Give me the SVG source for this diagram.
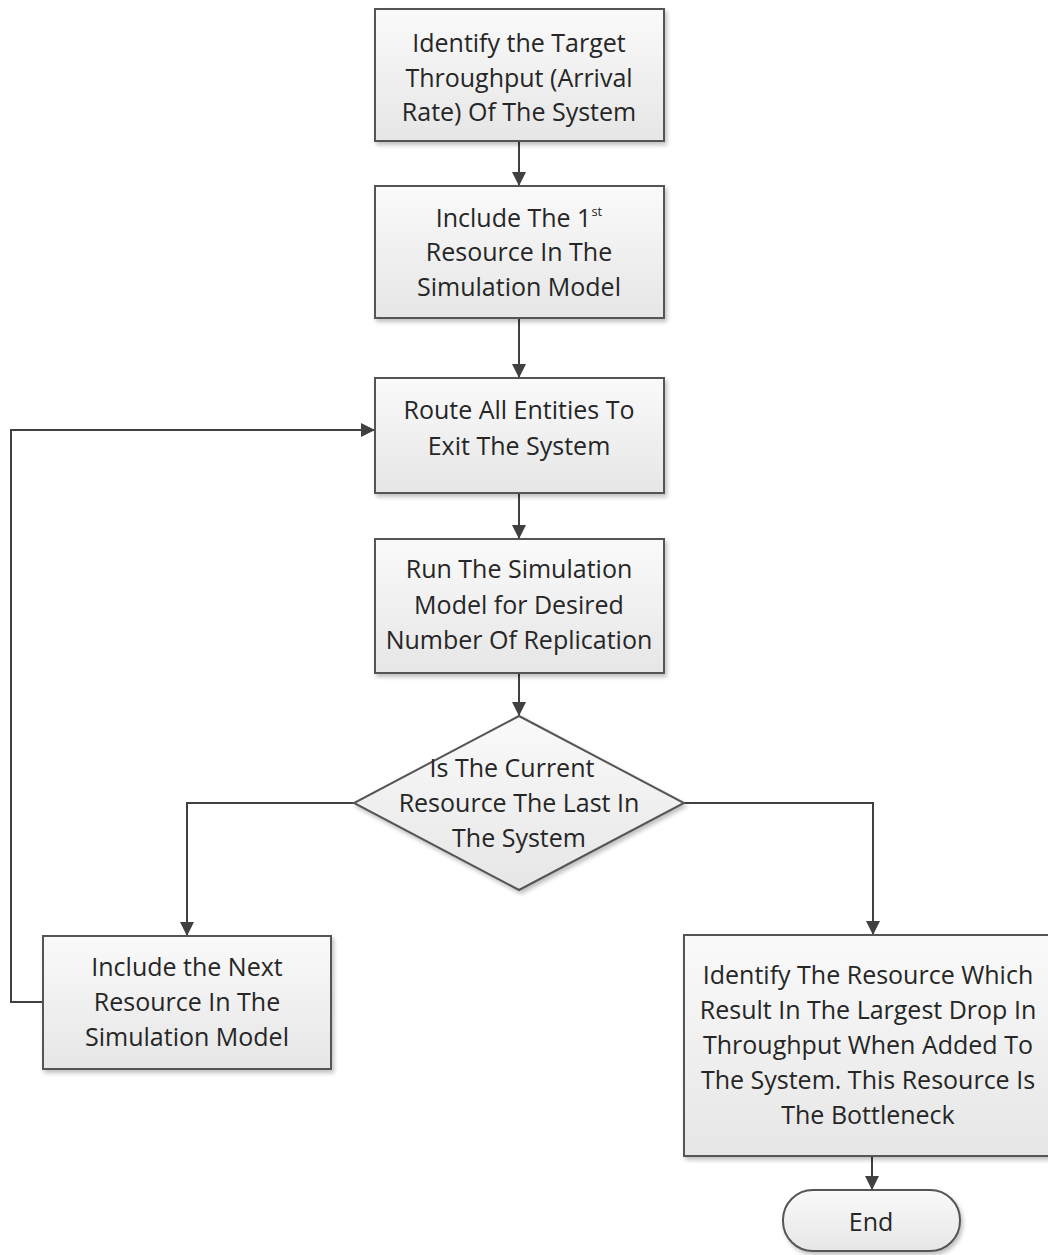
<svg xmlns="http://www.w3.org/2000/svg" width="1048" height="1255" viewBox="0 0 1048 1255">
  <defs>
    <linearGradient id="boxFill" x1="0" y1="0" x2="0" y2="1">
      <stop offset="0" stop-color="#fafafa"/>
      <stop offset="1" stop-color="#e6e6e6"/>
    </linearGradient>
    <filter id="shadow" x="-10%" y="-10%" width="120%" height="120%">
      <feGaussianBlur in="SourceAlpha" stdDeviation="2"/>
      <feOffset dx="2" dy="3" result="b"/>
      <feComponentTransfer><feFuncA type="linear" slope="0.25"/></feComponentTransfer>
      <feMerge><feMergeNode/><feMergeNode in="SourceGraphic"/></feMerge>
    </filter>
    <marker id="arrow" viewBox="0 0 10 10" refX="10" refY="5" markerWidth="14" markerHeight="14" markerUnits="userSpaceOnUse" orient="auto">
      <path d="M0,0 L10,5 L0,10 z" fill="#404040"/>
    </marker>
  </defs>
  <style>
    .node { fill: url(#boxFill); stroke: #555555; stroke-width: 2; filter: url(#shadow); }
    .label { font-family: "Open Sans", "Liberation Sans", Arial, sans-serif; font-size: 25px; fill: #262626; text-anchor: middle; }
    .sup { font-size: 13px; }
    .link { fill: none; stroke: #404040; stroke-width: 2; marker-end: url(#arrow); }
  </style>
  <rect width="1048" height="1255" fill="#ffffff"/>

  <g id="connectors">
    <path class="link" d="M519,141 L519,186"/>
    <path class="link" d="M519,318 L519,378"/>
    <path class="link" d="M519,493 L519,539"/>
    <path class="link" d="M519,673 L519,716"/>
    <path class="link" d="M354,803 L187,803 L187,936"/>
    <path class="link" d="M684,803 L873,803 L873,935"/>
    <path class="link" d="M43,1002 L11,1002 L11,430 L375,430"/>
    <path class="link" d="M872,1156 L872,1190"/>
  </g>

  <g id="n-target">
    <rect class="node" x="375" y="9" width="289" height="132"/>
    <text class="label" x="519" y="52">Identify the Target</text>
    <text class="label" x="519" y="87">Throughput (Arrival</text>
    <text class="label" x="519" y="121">Rate) Of The System</text>
  </g>

  <g id="n-first">
    <rect class="node" x="375" y="186" width="289" height="132"/>
    <text class="label" x="519" y="227">Include The 1<tspan class="sup" dy="-11">st</tspan></text>
    <text class="label" x="519" y="261">Resource In The</text>
    <text class="label" x="519" y="296">Simulation Model</text>
  </g>

  <g id="n-route">
    <rect class="node" x="375" y="378" width="289" height="115"/>
    <text class="label" x="519" y="419">Route All Entities To</text>
    <text class="label" x="519" y="455">Exit The System</text>
  </g>

  <g id="n-run">
    <rect class="node" x="375" y="539" width="289" height="134"/>
    <text class="label" x="519" y="578">Run The Simulation</text>
    <text class="label" x="519" y="614">Model for Desired</text>
    <text class="label" x="519" y="649">Number Of Replication</text>
  </g>

  <g id="n-decision">
    <polygon class="node" points="519,716 684,803 519,890 354,803"/>
    <text class="label" x="512" y="777">Is The Current</text>
    <text class="label" x="519" y="812">Resource The Last In</text>
    <text class="label" x="519" y="847">The System</text>
  </g>

  <g id="n-next">
    <rect class="node" x="43" y="936" width="288" height="133"/>
    <text class="label" x="187" y="976">Include the Next</text>
    <text class="label" x="187" y="1011">Resource In The</text>
    <text class="label" x="187" y="1046">Simulation Model</text>
  </g>

  <g id="n-bottleneck">
    <rect class="node" x="684" y="935" width="370" height="221"/>
    <text class="label" x="868" y="984">Identify The Resource Which</text>
    <text class="label" x="868" y="1019">Result In The Largest Drop In</text>
    <text class="label" x="868" y="1054">Throughput When Added To</text>
    <text class="label" x="868" y="1089">The System. This Resource Is</text>
    <text class="label" x="868" y="1124">The Bottleneck</text>
  </g>

  <g id="n-end">
    <rect class="node" x="783" y="1190" width="177" height="61" rx="30" ry="30"/>
    <text class="label" x="871" y="1231">End</text>
  </g>
</svg>
